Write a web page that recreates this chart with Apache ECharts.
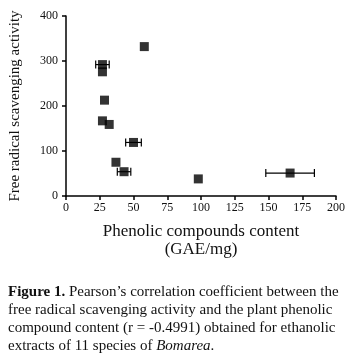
<!DOCTYPE html>
<html>
<head>
<meta charset="utf-8">
<script src="https://cdn.jsdelivr.net/npm/echarts@6/dist/echarts.min.js"></script>
<style>
  html, body { margin: 0; padding: 0; background: #fff; }
  #chart { width: 349px; height: 355px; }
</style>
</head>
<body>
<div id="chart"></div>
<script>
// phenolic content (GAE/mg) per species
const phenolic = [58, 27, 27, 28.5, 27, 32, 50, 37, 43, 98, 166]
// free radical scavenging activity
const scavenging = [332, 292, 276, 213, 167, 159, 119, 75, 54, 38, 51]
// horizontal error (+/-) on phenolic content
const phenolicErr = [0, 5, 0, 0, 0, 0, 5.8, 0, 5, 0, 18]

const xTicks = [0, 25, 50, 75, 100, 125, 150, 175, 200]
const yTicks = [0, 100, 200, 300, 400]

const serif = "Liberation Serif"

const points = phenolic.map((x, i) => [x, scavenging[i]])
const errData = phenolic.map((x, i) => [x - phenolicErr[i], x + phenolicErr[i], scavenging[i]])

const myChart = echarts.init(document.getElementById("chart"))

const option = {
  animation: false,
  backgroundColor: "#fff",
  title: {
    left: 3,
    top: 278,
    text:
      "{b|Figure 1.} Pearson’s correlation coefficient between the\n" +
      "free radical scavenging activity and the plant phenolic\n" +
      "compound content (r = -0.4991) obtained for ethanolic\n" +
      "extracts of 11 species of {i|Bomarea}.",
    textStyle: {
      fontFamily: serif,
      fontSize: 15,
      lineHeight: 18,
      color: "#111",
      fontWeight: "normal",
      rich: {
        b: { fontFamily: serif, fontSize: 15, fontWeight: "bold", color: "#111", lineHeight: 18 },
        i: { fontFamily: serif, fontSize: 15, fontStyle: "italic", color: "#111", lineHeight: 18 }
      }
    }
  },
  grid: {
    left: 65,
    right: 13,
    top: 16,
    bottom: 159
  },
  xAxis: {
    type: "value",
    min: 0,
    max: 200,
    interval: 25,
    name: "Phenolic compounds content\n(GAE/mg)",
    nameLocation: "middle",
    nameGap: 27,
    nameTextStyle: {
      fontFamily: serif,
      fontSize: 17,
      lineHeight: 18,
      color: "#111"
    },
    axisLine: { show: true, lineStyle: { color: "#000", width: 1.5 } },
    axisTick: { show: true, length: 4, lineStyle: { color: "#000", width: 1.5 } },
    axisLabel: {
      fontFamily: serif,
      fontSize: 12,
      color: "#111",
      margin: 6,
      formatter: v => (xTicks.includes(v) ? String(v) : "")
    },
    splitLine: { show: false }
  },
  yAxis: {
    type: "value",
    min: 0,
    max: 400,
    interval: 100,
    name: "Free radical scavenging activity",
    nameLocation: "middle",
    nameGap: 43,
    nameTextStyle: {
      fontFamily: serif,
      fontSize: 15,
      color: "#111"
    },
    axisLine: { show: true, lineStyle: { color: "#000", width: 1.5 } },
    axisTick: { show: true, length: 4, lineStyle: { color: "#000", width: 1.5 } },
    axisLabel: {
      fontFamily: serif,
      fontSize: 12,
      color: "#111",
      margin: 8,
      formatter: v => (yTicks.includes(v) ? String(v) : "")
    },
    splitLine: { show: false }
  },
  series: [
    {
      // error bars
      type: "custom",
      z: 1,
      data: errData,
      renderItem: function (params, api) {
        const lo = api.coord([api.value(0), api.value(2)])
        const hi = api.coord([api.value(1), api.value(2)])
        if (hi[0] - lo[0] < 1) return null
        const cap = 4
        const style = { stroke: "#000", lineWidth: 1.2 }
        return {
          type: "group",
          children: [
            { type: "line", shape: { x1: lo[0], y1: lo[1], x2: hi[0], y2: hi[1] }, style },
            { type: "line", shape: { x1: lo[0], y1: lo[1] - cap, x2: lo[0], y2: lo[1] + cap }, style },
            { type: "line", shape: { x1: hi[0], y1: hi[1] - cap, x2: hi[0], y2: hi[1] + cap }, style }
          ]
        }
      }
    },
    {
      type: "scatter",
      z: 2,
      symbol: "rect",
      symbolSize: 9,
      itemStyle: { color: "#000" },
      data: points
    }
  ]
}
myChart.setOption(option, true)
</script>
</body>
</html>
